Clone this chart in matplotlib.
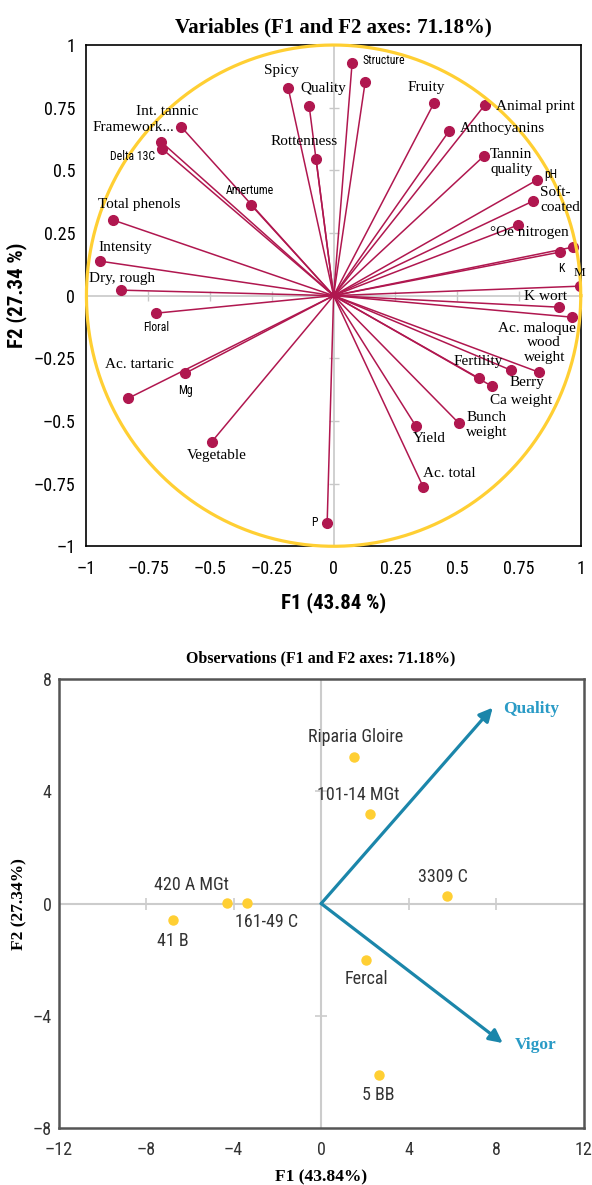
import matplotlib
matplotlib.use("Agg")
import matplotlib.pyplot as plt
from matplotlib import font_manager
import numpy as np

# --- variables plot (correlation circle) ---
var_names = ["Spicy", "Quality", "Int. tannic", "Framework...", "Delta 13C", "Rottenness",
             "Amertume", "Total phenols", "Intensity", "Dry, rough", "Structure", "",
             "Fruity", "Animal print", "Anthocyanins", "Tannin\nquality", "pH",
             "Soft-\ncoated", "°Oe nitrogen", "", "K", "M", "K wort", "Ac. maloque",
             "wood\nweight", "Berry", "Fertility", "Ca weight", "Bunch\nweight", "Yield",
             "Ac. total", "Floral", "Mg", "Ac. tartaric", "Vegetable", "P"]
var_f1 = [-0.184, -0.099, -0.617, -0.698, -0.694, -0.071, -0.334, -0.893, -0.947, -0.860,
          0.075, 0.128, 0.407, 0.613, 0.468, 0.609, 0.824, 0.808, 0.747, 0.970, 0.917,
          0.998, 0.913, 0.966, 0.832, 0.719, 0.589, 0.642, 0.508, 0.334, 0.362, -0.719,
          -0.601, -0.832, -0.492, -0.026]
var_f2 = [0.830, 0.758, 0.674, 0.614, 0.586, 0.546, 0.362, 0.302, 0.138, 0.022, 0.930,
          0.854, 0.770, 0.762, 0.658, 0.558, 0.462, 0.378, 0.282, 0.194, 0.174, 0.038,
          -0.046, -0.086, -0.306, -0.298, -0.330, -0.362, -0.510, -0.522, -0.762, -0.070,
          -0.310, -0.410, -0.582, -0.906]

# --- observations plot ---
obs_names = ["Riparia Gloire", "101-14 MGt", "3309 C", "420 A MGt", "161-49 C", "41 B",
             "Fercal", "5 BB"]
obs_f1 = [1.49, 2.22, 5.75, -4.31, -3.41, -6.77, 2.03, 2.63]
obs_f2 = [5.21, 3.20, 0.27, 0.02, 0.02, -0.60, -2.00, -6.09]
sup_names = ["Quality", "Vigor"]
sup_f1 = [7.84, 8.30]
sup_f2 = [6.98, -4.97]

circle_ticks = [-1, -0.75, -0.5, -0.25, 0, 0.25, 0.5, 0.75, 1]
obs_xticks = [-12, -8, -4, 0, 4, 8, 12]
obs_yticks = [-8, -4, 0, 4, 8]

# label placement: offset in pixels from the point, horizontal alignment
var_offsets = [(-7, 17, "center"), (14, 17, "center"), (-14, 15, "center"),
               (-28, 14, "center"), (-30, -8, "center"), (-12, 17, "center"),
               (-1, 14, "center"), (26, 15, "center"), (26, 14, "center"), (1, 12, "center"),
               (10, 2, "left"), (0, 0, "center"), (-8, 15, "center"), (11, -2, "left"),
               (11, 2, "left"), (6, -6, "left"), (7, 5, "left"), (7, 1, "left"),
               (11, -8, "center"), (0, 0, "center"), (1, -16, "center"), (-1, 13, "center"),
               (-14, 11, "center"), (-35, -11, "center"), (5, 22, "center"),
               (16, -12, "center"), (-1, 17, "center"), (29, -14, "center"),
               (7, -2, "left"), (13, -12, "center"), (26, 13, "center"), (0, -14, "center"),
               (0, -17, "center"), (11, 34, "center"), (5, -14, "center"), (-13, 0, "center")]
small_sans = {"Structure", "Delta 13C", "Amertume", "pH", "K", "Floral", "Mg", "P"}

installed = {f.name for f in font_manager.fontManager.ttflist}
narrow_font = next((f for f in ["Liberation Sans Narrow", "Roboto Condensed", "Roboto"]
                    if f in installed), "DejaVu Sans")
serif = "Liberation Serif"
narrow = [narrow_font, "DejaVu Sans"]
crimson = "#B0174F"
yellow = "#FFCF33"
teal = "#1B86AA"
dash = "\u2013"


def fmt(v):
    s = ("%g" % abs(v))
    return (dash + s) if v < 0 else s


fig = plt.figure(figsize=(5.92, 11.85), dpi=100)

# ---------- top: variables ----------
ax = fig.add_axes([0.146, 0.539, 0.835, 0.423])
ax.set_xlim(-1, 1)
ax.set_ylim(-1, 1)
ax.axhline(0, color="#C8C8C8", lw=1.2, zorder=1)
ax.axvline(0, color="#C8C8C8", lw=1.2, zorder=1)
tk = [t for t in circle_ticks if t not in (-1, 0, 1)]
ax.plot(tk, np.zeros(len(tk)), ls="none", marker="|", ms=7, mew=1.0, color="#C8C8C8", zorder=1)
ax.plot(np.zeros(len(tk)), tk, ls="none", marker="_", ms=7, mew=1.0, color="#C8C8C8", zorder=1)

th = np.linspace(0, 2 * np.pi, 400)
ax.plot(np.cos(th), np.sin(th), color=yellow, lw=2.3, zorder=5, clip_on=False)

for x, y in zip(var_f1, var_f2):
    ax.plot([0, x], [0, y], color=crimson, lw=1.1, zorder=3)
ax.plot(var_f1, var_f2, ls="none", marker="o", ms=7, color=crimson, zorder=4)

for name, x, y, (dx, dy, ha) in zip(var_names, var_f1, var_f2, var_offsets):
    if not name:
        continue
    if name in small_sans:
        fam, fs = narrow, 8.5
    elif name == "M":
        fam, fs = serif, 9.5
    else:
        fam, fs = serif, 11
    ax.annotate(name, (x, y), xytext=(dx, dy), textcoords="offset pixels",
                ha=ha, va="center", family=fam, fontsize=fs, linespacing=1.2,
                zorder=6, annotation_clip=False)

ax.set_xticks(circle_ticks)
ax.set_yticks(circle_ticks)
ax.set_xticklabels([fmt(t) for t in circle_ticks], family=narrow, fontsize=13)
ax.set_yticklabels([fmt(t) for t in circle_ticks], family=narrow, fontsize=13)
ax.tick_params(length=0)
ax.tick_params(axis="x", pad=10)
ax.tick_params(axis="y", pad=8)
for s in ax.spines.values():
    s.set_linewidth(1.2)
    s.set_zorder(2)
ax.set_xlabel("F1 (43.84 %)", family=narrow, fontsize=15, fontweight="bold", labelpad=10)
ax.set_ylabel("F2 (27.34 %)", family=narrow, fontsize=15, fontweight="bold", labelpad=5)
ax.set_title("Variables (F1 and F2 axes: 71.18%)", family=serif, fontsize=15,
             fontweight="bold", pad=9)

# ---------- bottom: observations ----------
bx = fig.add_axes([0.099, 0.048, 0.887, 0.379])
bx.set_xlim(-12, 12)
bx.set_ylim(-8, 8)
bx.axhline(0, color="#CCCCCC", lw=1.5, zorder=1)
bx.axvline(0, color="#CCCCCC", lw=1.5, zorder=1)
bxt = [t for t in obs_xticks if t not in (-12, 0, 12)]
byt = [t for t in obs_yticks if t not in (-8, 0, 8)]
bx.plot(bxt, np.zeros(len(bxt)), ls="none", marker="|", ms=8, mew=1.2, color="#CCCCCC", zorder=1)
bx.plot(np.zeros(len(byt)), byt, ls="none", marker="_", ms=8, mew=1.2, color="#CCCCCC", zorder=1)

bx.plot(obs_f1, obs_f2, ls="none", marker="o", ms=6.5, color=yellow, zorder=4)
obs_offsets = [(2, 20), (-12, 19), (-4, 19), (-35, 18), (20, -19), (0, -21), (1, -19), (0, -20)]
for name, x, y, (dx, dy) in zip(obs_names, obs_f1, obs_f2, obs_offsets):
    bx.annotate(name, (x, y), xytext=(dx, dy), textcoords="offset pixels",
                ha="center", va="center", family=narrow, fontsize=13, color="#333333")

sup_offsets = [(38, -1), (33, -2)]
for name, x, y, (dx, dy) in zip(sup_names, sup_f1, sup_f2, sup_offsets):
    bx.annotate("", xy=(x, y), xytext=(0, 0),
                arrowprops=dict(arrowstyle="-|>", color=teal, lw=2.3,
                                mutation_scale=20, shrinkA=0, shrinkB=0), zorder=3)
    bx.annotate(name, (x, y), xytext=(dx, dy), textcoords="offset pixels",
                ha="center", va="center", family=serif, fontsize=12.5,
                fontweight="bold", color="#2A9BC6")

bx.set_xticks(obs_xticks)
bx.set_yticks(obs_yticks)
bx.set_xticklabels([fmt(t) for t in obs_xticks], family=narrow, fontsize=13, color="#333333")
bx.set_yticklabels([fmt(t) for t in obs_yticks], family=narrow, fontsize=13, color="#333333")
bx.tick_params(length=0)
bx.tick_params(axis="x", pad=9)
bx.tick_params(axis="y", pad=5)
for s in bx.spines.values():
    s.set_linewidth(1.8)
    s.set_color("#555555")
bx.set_xlabel("F1 (43.84%)", family=serif, fontsize=12.5, fontweight="bold", labelpad=8)
bx.set_ylabel("F2 (27.34%)", family=serif, fontsize=12.5, fontweight="bold", labelpad=4)
bx.set_title("Observations (F1 and F2 axes: 71.18%)", family=serif, fontsize=11.5,
             fontweight="bold", pad=12)

fig.savefig("out.png", dpi=100)
